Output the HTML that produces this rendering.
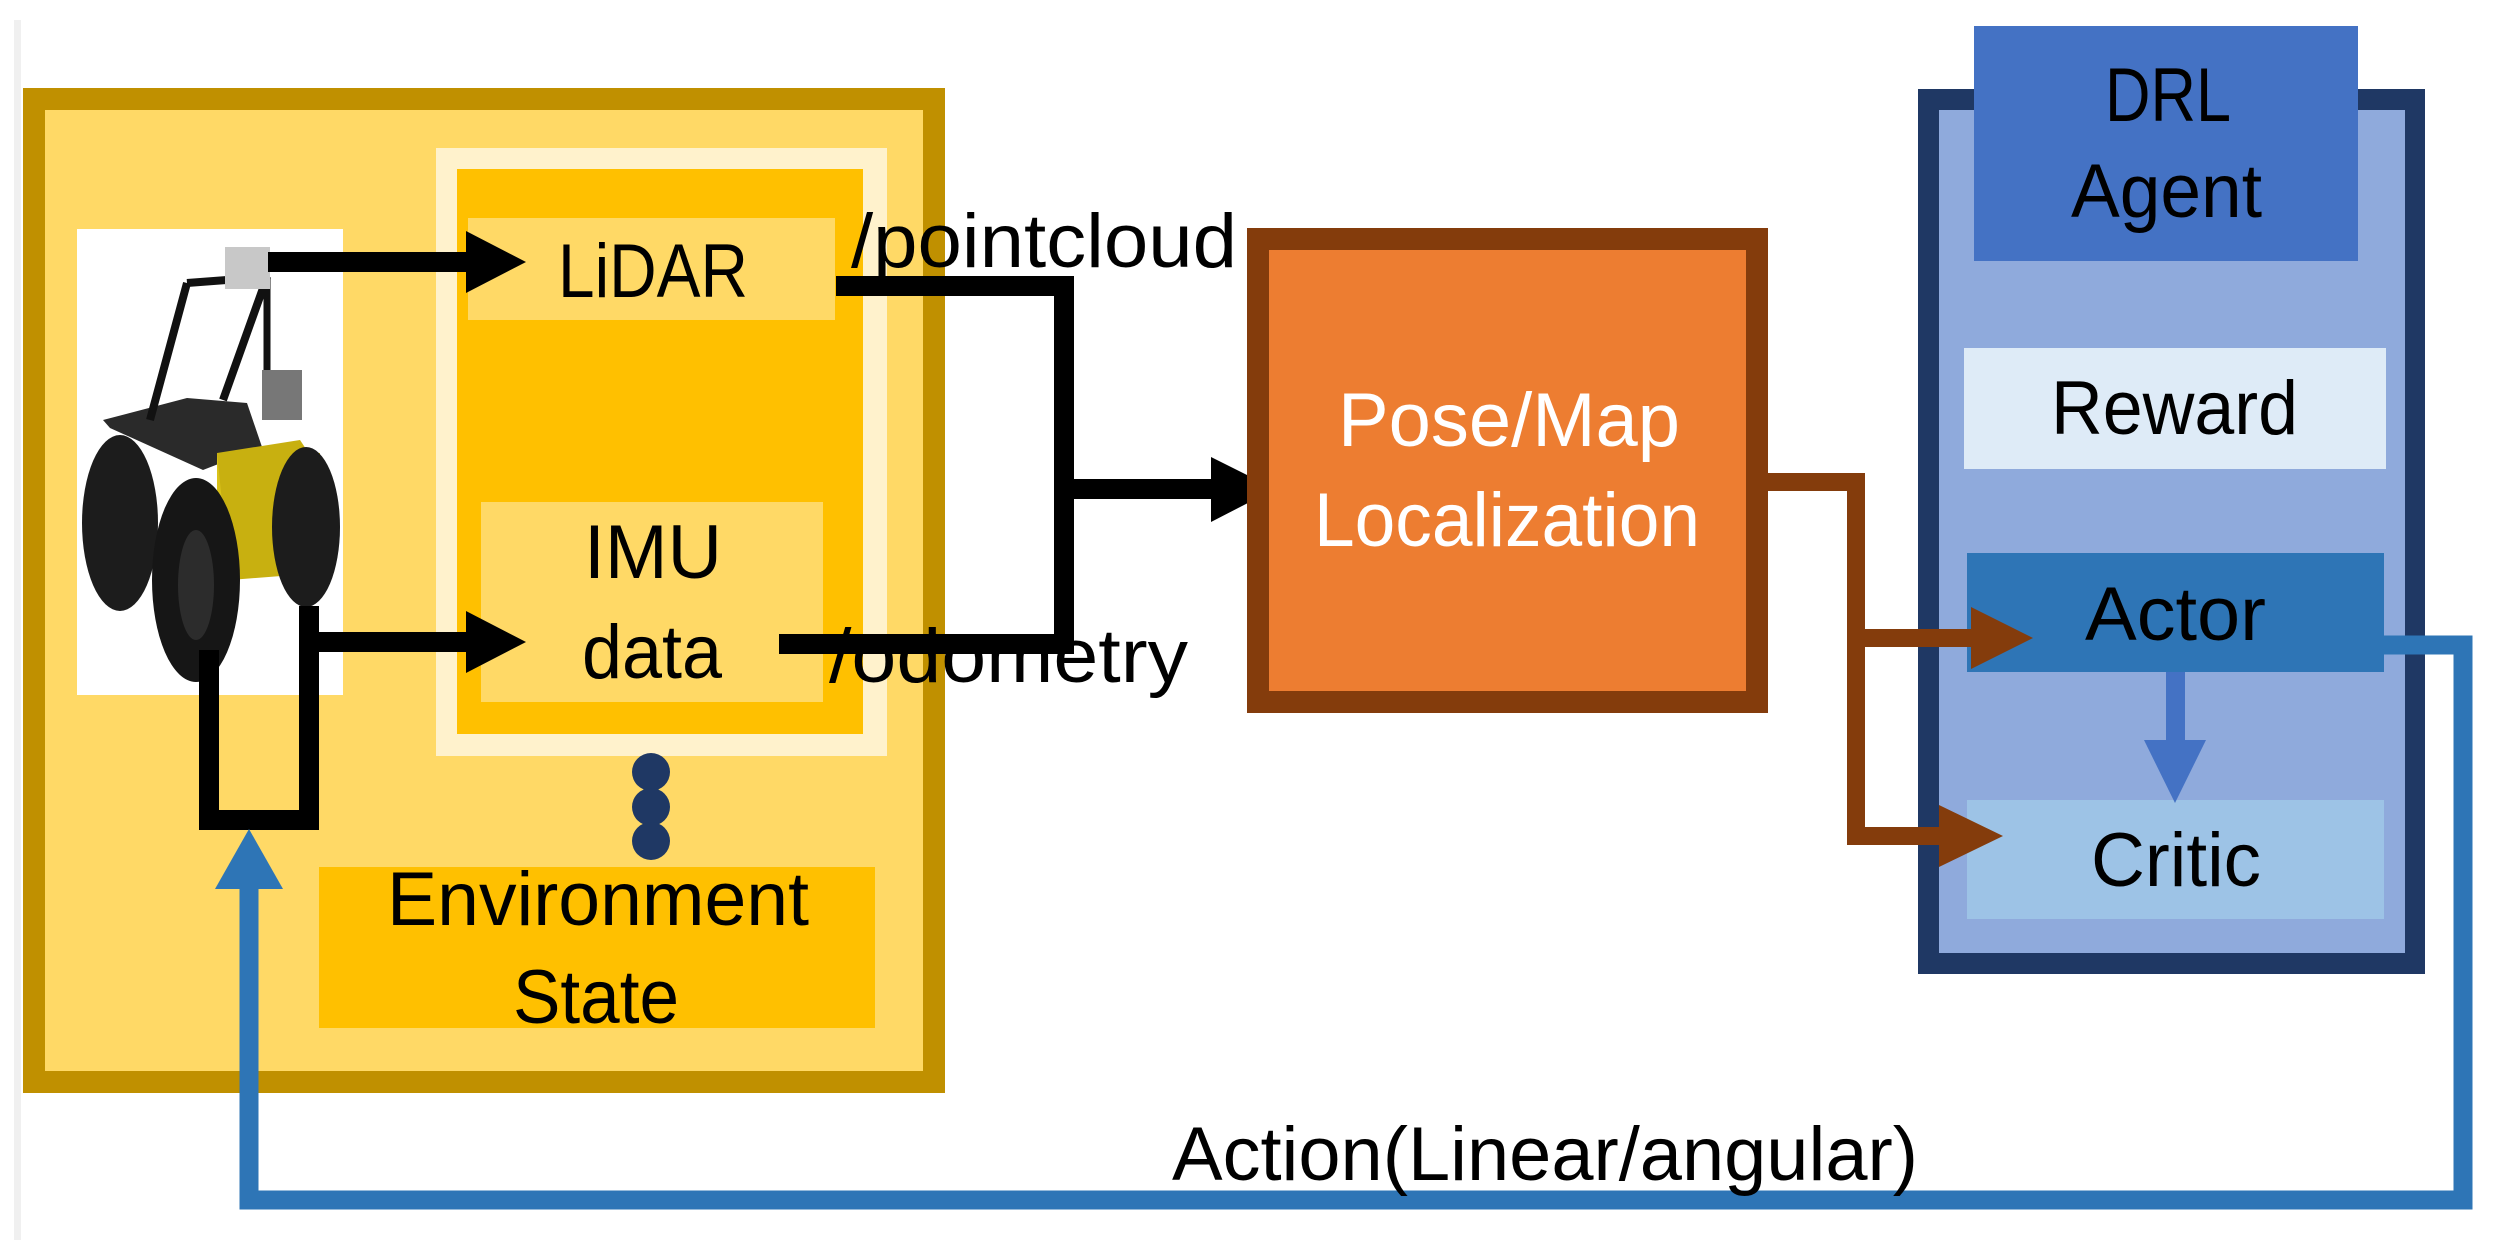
<!DOCTYPE html>
<html><head><meta charset="utf-8"><style>
html,body{margin:0;padding:0;background:#fff;}
svg{display:block;}
text{font-family:"Liberation Sans",sans-serif;font-size:76px;}
</style></head><body>
<svg width="2499" height="1260" viewBox="0 0 2499 1260" xmlns="http://www.w3.org/2000/svg">
<rect x="0" y="0" width="2499" height="1260" fill="#fff"/>
<rect x="14" y="20" width="7" height="1220" fill="#f0f0f0"/>

<rect x="23" y="88" width="922" height="1005" fill="#C09000"/>
<rect x="45" y="110" width="878" height="961" fill="#FFD966"/>
<rect x="436" y="148" width="451" height="608" fill="#FFF2CC"/>
<rect x="457" y="169" width="406" height="565" fill="#FFC000"/>
<rect x="468" y="218" width="367" height="102" fill="#FFD966"/>
<rect x="481" y="502" width="342" height="200" fill="#FFD966"/>
<rect x="319" y="867" width="556" height="161" fill="#FFC000"/>

<rect x="77" y="229" width="266" height="466" fill="#fff"/>
<g>
  <polygon points="103,420 187,398 247,403 262,447 203,470 110,428" fill="#2a2a2a"/>
  <rect x="217" y="453" width="103" height="120" fill="#d9c21a"/>
  <polygon points="217,453 300,440 320,470 320,573 230,580" fill="#c8b010"/>
  <ellipse cx="120" cy="523" rx="38" ry="88" fill="#1c1c1c"/>
  <ellipse cx="306" cy="527" rx="34" ry="80" fill="#1c1c1c"/>
  <ellipse cx="196" cy="580" rx="44" ry="102" fill="#161616"/>
  <ellipse cx="196" cy="585" rx="18" ry="55" fill="#2c2c2c"/>
  <line x1="150" y1="420" x2="187" y2="283" stroke="#111" stroke-width="8"/>
  <line x1="187" y1="283" x2="267" y2="277" stroke="#111" stroke-width="8"/>
  <line x1="267" y1="277" x2="223" y2="400" stroke="#111" stroke-width="8"/>
  <line x1="267" y1="277" x2="267" y2="380" stroke="#111" stroke-width="7"/>
  <rect x="262" y="370" width="40" height="50" fill="#777"/>
  <rect x="225" y="247" width="45" height="42" fill="#c8c8c8"/>
</g>

<g fill="none" stroke="#000" stroke-width="20">
  <line x1="268" y1="262" x2="470" y2="262"/>
  <line x1="311" y1="642" x2="470" y2="642"/>
  <polyline points="209,650 209,820 309,820 309,606"/>
  <polyline points="836,286 1064,286 1064,644 779,644"/>
  <line x1="1064" y1="489" x2="1215" y2="489"/>
</g>
<polygon points="466,231 526,262 466,293" fill="#000"/>
<polygon points="466,611 526,642 466,673" fill="#000"/>
<polygon points="1211,457 1275,489 1211,522" fill="#000"/>

<circle cx="651" cy="772" r="19" fill="#1F3864"/>
<circle cx="651" cy="807" r="19" fill="#1F3864"/>
<circle cx="651" cy="841" r="19" fill="#1F3864"/>

<text x="558" y="297" textLength="190" lengthAdjust="spacingAndGlyphs">LiDAR</text>
<text x="584" y="578" textLength="138" lengthAdjust="spacingAndGlyphs">IMU</text>
<text x="582" y="678" textLength="140" lengthAdjust="spacingAndGlyphs">data</text>
<text x="387" y="925" textLength="422" lengthAdjust="spacingAndGlyphs">Environment</text>
<text x="513" y="1023" textLength="166" lengthAdjust="spacingAndGlyphs">State</text>
<text x="851" y="267" textLength="386" lengthAdjust="spacingAndGlyphs">/pointcloud</text>
<text x="829" y="682" textLength="359" lengthAdjust="spacingAndGlyphs">/odometry</text>

<rect x="1247" y="228" width="521" height="485" fill="#843C0C"/>
<rect x="1269" y="250" width="477" height="441" fill="#ED7D31"/>
<text x="1338" y="446" fill="#fff" textLength="342" lengthAdjust="spacingAndGlyphs">Pose/Map</text>
<text x="1314" y="546" fill="#fff" textLength="386" lengthAdjust="spacingAndGlyphs">Localization</text>

<rect x="1918" y="89" width="507" height="885" fill="#1F3864"/>
<rect x="1939" y="110" width="466" height="843" fill="#8FAADC"/>
<rect x="1974" y="26" width="384" height="235" fill="#4472C4"/>
<rect x="1964" y="348" width="422" height="121" fill="#DEEBF7"/>
<rect x="1967" y="553" width="417" height="119" fill="#2E75B6"/>
<rect x="1967" y="800" width="417" height="119" fill="#9DC3E6"/>
<text x="2105" y="121" textLength="126" lengthAdjust="spacingAndGlyphs">DRL</text>
<text x="2071" y="217" textLength="191" lengthAdjust="spacingAndGlyphs">Agent</text>
<text x="2051" y="434" textLength="247" lengthAdjust="spacingAndGlyphs">Reward</text>
<text x="2085" y="640" textLength="181" lengthAdjust="spacingAndGlyphs">Actor</text>
<text x="2091" y="886" textLength="170" lengthAdjust="spacingAndGlyphs">Critic</text>

<rect x="2166" y="672" width="19" height="70" fill="#4472C4"/>
<polygon points="2144,740 2206,740 2175,803" fill="#4472C4"/>

<g fill="none" stroke="#843C0C" stroke-width="18">
  <polyline points="1768,482 1856,482 1856,836 1945,836"/>
  <line x1="1856" y1="638" x2="1975" y2="638"/>
</g>
<polygon points="1971,607 2033,638 1971,669" fill="#843C0C"/>
<polygon points="1939,805 2003,836 1939,867" fill="#843C0C"/>

<polyline points="2384,645 2463,645 2463,1200 249,1200 249,885" fill="none" stroke="#2E75B6" stroke-width="19"/>
<polygon points="215,889 283,889 249,829" fill="#2E75B6"/>
<text x="1172" y="1180" textLength="746" lengthAdjust="spacingAndGlyphs">Action(Linear/angular)</text>
</svg>
</body></html>
